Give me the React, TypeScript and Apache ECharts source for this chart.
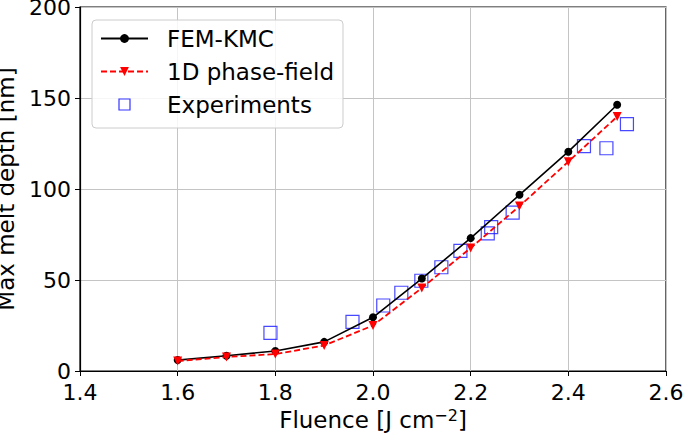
import React, { useEffect, useRef } from "react";
import * as echarts from "echarts";

const fluence = [1.6, 1.7, 1.8, 1.9, 2.0, 2.1, 2.2, 2.3, 2.4, 2.5];
const femKmc = [6, 8.4, 11, 16, 29.5, 50.8, 73, 96.8, 120.5, 146.3];
const phaseField = [5.5, 7.7, 9.3, 14, 25, 45.6, 67.6, 90.6, 115, 139.8];
const expFluence = [1.79, 1.958, 2.021, 2.058, 2.099, 2.14, 2.179, 2.235, 2.242, 2.286, 2.432, 2.478, 2.52];
const expDepth = [21, 27, 36, 43, 49.6, 57, 66, 75.6, 79, 87, 123.6, 122.4, 135.7];

const FONT = "DejaVu Sans";

export default function App() {
  const ref = useRef<HTMLDivElement>(null);
  useEffect(() => {
    const chart = echarts.init(ref.current!, null, { renderer: "svg" });
    chart.setOption({
      animation: false,
      backgroundColor: "#fff",
      grid: {
        left: 80, right: 19, top: 7, bottom: 62,
        outerBoundsMode: "none",
        containLabel: false,
        show: true, borderColor: "#000", borderWidth: 1.2, backgroundColor: "transparent",
      },
      legend: {
        orient: "vertical",
        left: 92, top: 20,
        padding: [7, 9, 12, 8],
        itemWidth: 47, itemHeight: 11, itemGap: 10,
        backgroundColor: "rgba(255,255,255,0.85)",
        borderColor: "#cccccc", borderWidth: 1, borderRadius: 4,
        textStyle: { fontFamily: FONT, fontSize: 23, color: "#000", lineHeight: 23, padding: [0, 0, 0, 14] },
        data: [
          "FEM-KMC",
          "1D phase-field",
          {
            name: "Experiments",
            icon: "path://M0,0H10V10H0Z",
            itemStyle: { color: "transparent", borderColor: "#0000ff", borderWidth: 1.2 },
          },
        ],
      },
      xAxis: {
        type: "value", min: 1.4, max: 2.6, interval: 0.2,
        name: "{a|Fluence [J cm}{s|−2}{a|]}",
        nameLocation: "middle", nameGap: 34,
        nameTextStyle: {
          rich: {
            a: { fontFamily: FONT, fontSize: 23, color: "#000", lineHeight: 24, verticalAlign: "bottom" },
            s: { fontFamily: FONT, fontSize: 16, color: "#000", lineHeight: 24, verticalAlign: "top", padding: [0, 0, 9, 0] },
          },
        },
        axisLine: { show: true, lineStyle: { color: "#000", width: 1.2 } },
        axisTick: { show: true, length: 5, lineStyle: { color: "#000" } },
        axisLabel: { fontFamily: FONT, fontSize: 22, color: "#000", margin: 10, formatter: (v: number) => v.toFixed(1) },
        splitLine: { show: true, lineStyle: { color: "#c4c4c4", width: 1 } },
      },
      yAxis: {
        type: "value", min: 0, max: 200, interval: 50,
        name: "Max melt depth [nm]",
        nameLocation: "middle", nameGap: 53,
        nameTextStyle: { fontFamily: FONT, fontSize: 23, color: "#000", lineHeight: 24 },
        axisLine: { show: true, lineStyle: { color: "#000", width: 1.2 } },
        axisTick: { show: true, length: 5, lineStyle: { color: "#000" } },
        axisLabel: { fontFamily: FONT, fontSize: 22, color: "#000", margin: 9 },
        splitLine: { show: true, lineStyle: { color: "#c4c4c4", width: 1 } },
      },
      series: [
        {
          name: "FEM-KMC", type: "line",
          data: fluence.map((x, i) => [x, femKmc[i]]),
          symbol: "circle", symbolSize: 8,
          lineStyle: { color: "#000", width: 1.6 },
          itemStyle: { color: "#000" },
          z: 3,
        },
        {
          name: "1D phase-field", type: "line",
          data: fluence.map((x, i) => [x, phaseField[i]]),
          symbol: "triangle", symbolRotate: 180, symbolSize: 9,
          lineStyle: { color: "#ff0000", width: 1.8, type: [6, 3] },
          itemStyle: { color: "#ff0000" },
          z: 4,
        },
        {
          name: "Experiments", type: "scatter",
          data: expFluence.map((x, i) => [x, expDepth[i]]),
          symbol: "rect", symbolSize: 13,
          itemStyle: { color: "transparent", borderColor: "#1a1aff", borderWidth: 1.2 },
          z: 2,
        },
      ],
    });
    return () => chart.dispose();
  }, []);
  return <div ref={ref} style={{ width: 685, height: 433, position: "absolute", left: 0, top: 0 }} />;
}
